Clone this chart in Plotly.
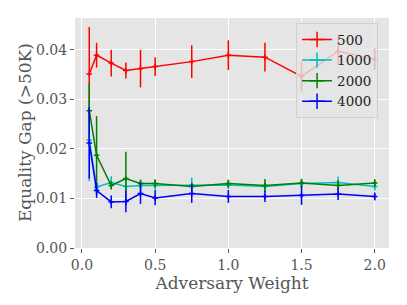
import plotly.graph_objects as go

weights = [0.05, 0.1, 0.2, 0.3, 0.4, 0.5, 0.75, 1.0, 1.25, 1.5, 1.75, 2.0]

series_names = ["500", "1000", "2000", "4000"]

gap_500 = [0.0351, 0.0389, 0.0373, 0.0358, 0.0362, 0.0366, 0.0376, 0.0389, 0.0385, 0.0346, 0.0397, 0.0381]
err_500 = [0.0095, 0.0025, 0.0027, 0.0016, 0.0038, 0.0019, 0.0033, 0.0030, 0.0029, 0.0030, 0.0028, 0.0022]

gap_1000 = [0.0218, 0.0123, 0.0132, 0.0124, 0.0126, 0.0126, 0.0127, 0.0127, 0.0124, 0.0130, 0.0132, 0.0124]
err_1000 = [0.0083, 0.0010, 0.0013, 0.0010, 0.0010, 0.0012, 0.0015, 0.0008, 0.0010, 0.0010, 0.0012, 0.0008]

gap_2000 = [0.0277, 0.0187, 0.0126, 0.0140, 0.0130, 0.0130, 0.0124, 0.0130, 0.0126, 0.0131, 0.0126, 0.0131]
err_2000 = [0.0056, 0.0079, 0.0008, 0.0054, 0.0008, 0.0008, 0.0008, 0.0008, 0.0013, 0.0008, 0.0010, 0.0008]

gap_4000 = [0.0212, 0.0116, 0.0093, 0.0094, 0.0110, 0.0101, 0.0110, 0.0104, 0.0104, 0.0106, 0.0109, 0.0104]
err_4000 = [0.0072, 0.0015, 0.0013, 0.0022, 0.0021, 0.0015, 0.0019, 0.0013, 0.0011, 0.0019, 0.0012, 0.0008]

colors = ["#FF0000", "#00BFBF", "#008000", "#0000FF"]
gaps = [gap_500, gap_1000, gap_2000, gap_4000]
errs = [err_500, err_1000, err_2000, err_4000]

FONT = "DejaVu Serif"
TXT = "#555555"

fig = go.Figure()
for name, g, e, c in zip(series_names, gaps, errs, colors):
    fig.add_trace(go.Scatter(
        x=weights, y=g, mode="lines+markers", name=name, showlegend=False,
        line=dict(color=c, width=1.5),
        marker=dict(symbol="cross-thin", size=4, line=dict(color=c, width=1.5)),
        error_y=dict(type="data", array=e, visible=True, color=c, thickness=1.5, width=0),
    ))
# legend entries (matplotlib-style errorbar glyph)
for name, c in zip(series_names, colors):
    fig.add_trace(go.Scatter(
        x=[None], y=[None], mode="lines+markers", name=name,
        line=dict(color=c, width=1.5),
        marker=dict(symbol="cross-thin", size=11, line=dict(color=c, width=1.5)),
    ))

fig.update_layout(
    width=407, height=305,
    margin=dict(l=75, r=18, t=18, b=57),
    paper_bgcolor="white", plot_bgcolor="#E5E5E5",
    font=dict(family=FONT, color=TXT, size=14),
    legend=dict(
        x=0.704, y=0.977, xanchor="left", yanchor="top",
        bgcolor="rgba(229,229,229,0.8)", bordercolor="#D0D0D0", borderwidth=1,
        font=dict(family=FONT, size=13.5, color="#222222"),
        tracegroupgap=0, itemwidth=30,
    ),
    xaxis=dict(
        range=[-0.0475, 2.0975], dtick=0.5, tick0=0, tickformat=".1f",
        showgrid=True, gridcolor="white", gridwidth=1.2, zeroline=False,
        ticks="outside", ticklen=4, tickcolor=TXT, tickwidth=1,
        tickfont=dict(size=14, color=TXT),
        title=dict(text="Adversary Weight", font=dict(size=17, color=TXT), standoff=0),
        showline=False,
    ),
    yaxis=dict(
        range=[0, 0.0464], dtick=0.01, tick0=0, tickformat=".2f",
        showgrid=True, gridcolor="white", gridwidth=1.2, zeroline=False,
        ticks="outside", ticklen=4, tickcolor=TXT, tickwidth=1,
        tickfont=dict(size=14, color=TXT),
        showline=False,
    ),
    annotations=[dict(
        text="Equality Gap (>50K)", textangle=-90,
        xref="paper", yref="paper", x=-0.159, y=0.5,
        xanchor="center", yanchor="middle", showarrow=False,
        font=dict(family=FONT, size=17, color=TXT),
    )],
)

fig.write_html(
    "out.html",
    config={"displayModeBar": False},
    post_script="document.body.style.margin='0';document.body.style.overflow='hidden';",
)
